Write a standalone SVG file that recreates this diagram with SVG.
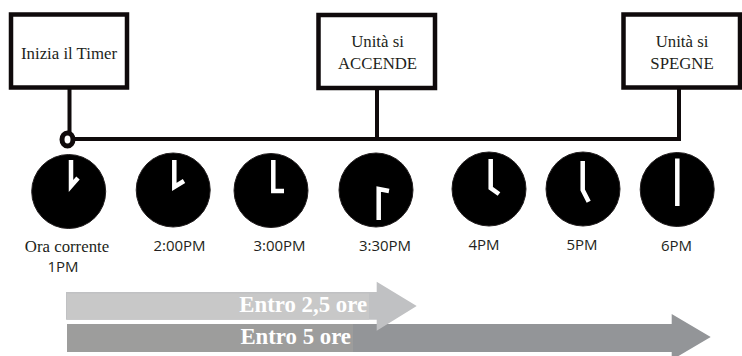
<svg xmlns="http://www.w3.org/2000/svg" width="742" height="356" viewBox="0 0 742 356">
<style>
.box{fill:#fff;stroke:#0f0a0b;stroke-width:4.500}
.line{fill:none;stroke:#0f0a0b;stroke-width:4}
.ring{fill:#fff;stroke:#0f0a0b;stroke-width:5}
.face{fill:#000;stroke:#231f20;stroke-width:1}
.hand{fill:none;stroke:#fff;stroke-width:4.500}
.s{font-family:"Liberation Serif",serif;font-size:16.800px;fill:#231f20;text-anchor:middle}
.t{font-family:"Open Sans",sans-serif;font-size:15px;fill:#231f20;text-anchor:middle}
.b{font-family:"Liberation Serif",serif;font-size:22.800px;font-weight:bold;fill:#fff;text-anchor:end}
</style>
<rect width="742" height="356" fill="#fff"/>
<g id="connectors">
<path class="line" d="M69.500 88V133"/>
<path class="line" d="M73 139H679V88"/>
<path class="line" d="M377 88V139"/>
<ellipse class="ring" cx="67.500" cy="139.500" rx="5.500" ry="6.500"/>
</g>
<g id="box-start"><rect class="box" x="11" y="14.500" width="116" height="73"/><text class="s" x="69" y="59">Inizia il Timer</text></g>
<g id="box-on"><rect class="box" x="318.500" y="15" width="116.500" height="73"/><text class="s" x="377.500" y="47">Unità si</text><text class="s" x="377.500" y="69">ACCENDE</text></g>
<g id="box-off"><rect class="box" x="623.500" y="14.500" width="116.500" height="73"/><text class="s" x="682" y="47">Unità si</text><text class="s" x="682" y="69">SPEGNE</text></g>
<g id="clock-1pm"><circle class="face" cx="68.700" cy="191.500" r="37"/><path class="hand" d="M71 160V186L78 178"/><text class="s" x="67" y="252">Ora corrente</text><text class="t" x="63" y="272">1PM</text></g>
<g id="clock-2pm"><circle class="face" cx="173.200" cy="190" r="37"/><path class="hand" d="M174.300 160V187L184 181"/><text class="t" x="179.500" y="251">2:00PM</text></g>
<g id="clock-3pm"><circle class="face" cx="271" cy="190.500" r="37"/><path class="hand" d="M273.300 160V191H284"/><text class="t" x="279.500" y="251">3:00PM</text></g>
<g id="clock-330pm"><circle class="face" cx="376" cy="190" r="37"/><path class="hand" d="M378.700 220V189L389 191"/><text class="t" x="385" y="251">3:30PM</text></g>
<g id="clock-4pm"><circle class="face" cx="489" cy="189" r="37"/><path class="hand" d="M490.700 159V188L499 194"/><text class="t" x="484" y="250">4PM</text></g>
<g id="clock-5pm"><circle class="face" cx="583" cy="189" r="37"/><path class="hand" d="M582.700 161V190L588.700 201.700"/><text class="t" x="582" y="250">5PM</text></g>
<g id="clock-6pm"><circle class="face" cx="677.200" cy="189.500" r="37"/><path class="hand" d="M677.300 158.500V206"/><text class="t" x="676.500" y="251">6PM</text></g>
<g id="arrow-5h"><path fill="#939598" d="M67 324H671.700V314L710.700 337L671.700 360V352H67Z"/><rect x="67" y="324" width="286" height="28" fill="#9d9d9c"/><text class="b" x="351" y="344">Entro 5 ore</text></g>
<g id="arrow-25h"><path fill="#c0c1c3" d="M66 292H376.700V281.700L416.700 306L376.700 330.700V319.700H66Z"/><rect x="67" y="293.500" width="302" height="26.200" fill="#c8c8c8"/><text class="b" x="367" y="312">Entro 2,5 ore</text></g>
</svg>
